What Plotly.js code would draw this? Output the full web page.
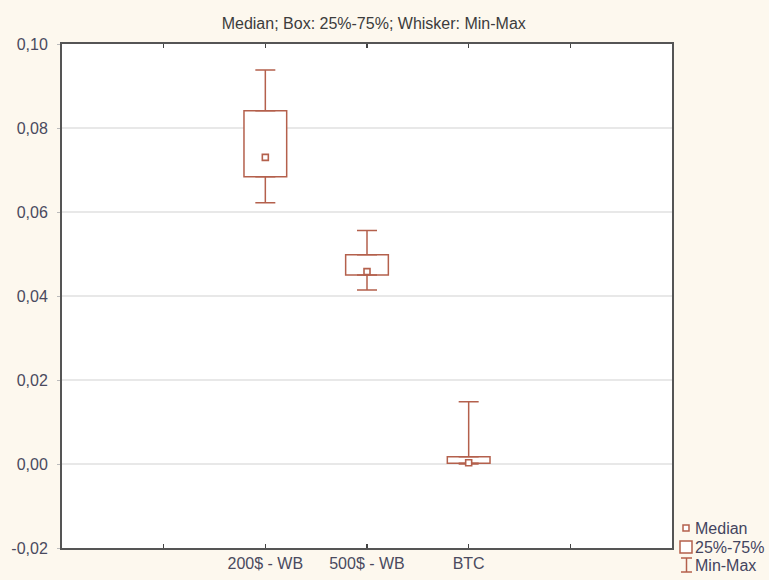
<!DOCTYPE html>
<html>
<head>
<meta charset="utf-8">
<script src="https://cdn.plot.ly/plotly-3.0.1.min.js"></script>
<style>html,body{margin:0;padding:0;background:#fdf8ee;}</style>
</head>
<body>
<div id="chart" style="width:769px;height:580px;"></div>
<script>
// Data
const categories = ['200$ - WB', '500$ - WB', 'BTC'];
const minVals    = [0.0622, 0.0414, 0.0000];
const q1Vals     = [0.0684, 0.0450, 0.0002];
const medianVals = [0.0730, 0.0458, 0.0003];
const q3Vals     = [0.0841, 0.0498, 0.0017];
const maxVals    = [0.0938, 0.0556, 0.0148];
const axisCategories = [' ', '200$ - WB', '500$ - WB', 'BTC', '  '];
const yTickVals = [-0.02, 0, 0.02, 0.04, 0.06, 0.08, 0.10];
const yTickText = yTickVals.map(v => v.toFixed(2).replace('.', ','));

const brown = '#b4604c';
const W = 769, H = 580;
const mL = 62, mR = 97, mT = 44, mB = 32;
const plotW = W - mL - mR, plotH = H - mT - mB;
const px = x => (x - mL) / plotW;
const py = y => (H - mB - y) / plotH;

const boxTrace = {
  type: 'bar', x: categories,
  base: q1Vals,
  y: q3Vals.map((v, i) => v - q1Vals[i]),
  width: 0.42,
  marker: {color: 'white', line: {color: brown, width: 1.5}},
  showlegend: false, hoverinfo: 'skip'
};
const upperWhisker = {
  type: 'scatter', mode: 'markers', x: categories, y: q3Vals,
  marker: {size: 1, opacity: 0},
  error_y: {type: 'data', symmetric: false,
    array: maxVals.map((v, i) => v - q3Vals[i]),
    arrayminus: q3Vals.map(() => 0),
    width: 10, thickness: 1.5, color: brown},
  showlegend: false, hoverinfo: 'skip'
};
const lowerWhisker = {
  type: 'scatter', mode: 'markers', x: categories, y: q1Vals,
  marker: {size: 1, opacity: 0},
  error_y: {type: 'data', symmetric: false,
    array: q1Vals.map(() => 0),
    arrayminus: q1Vals.map((v, i) => v - minVals[i]),
    width: 10, thickness: 1.5, color: brown},
  showlegend: false, hoverinfo: 'skip'
};
const medianTrace = {
  type: 'scatter', mode: 'markers', x: categories, y: medianVals,
  marker: {symbol: 'square', size: 6, color: 'white', line: {color: brown, width: 1.6}},
  showlegend: false
};

const FAM = 'Liberation Sans, Arial, sans-serif';
const legendFont = {family: FAM, size: 16, color: '#44445e'};
const shapes = [
  {type: 'rect', xref: 'paper', yref: 'paper', x0: px(683), x1: px(689), y0: py(531), y1: py(525),
   line: {color: brown, width: 1.5}, fillcolor: 'white'},
  {type: 'rect', xref: 'paper', yref: 'paper', x0: px(680), x1: px(692), y0: py(553), y1: py(541),
   line: {color: brown, width: 1.5}, fillcolor: 'white'},
  {type: 'line', xref: 'paper', yref: 'paper', x0: px(681), x1: px(692), y0: py(558), y1: py(558),
   line: {color: brown, width: 1.5}},
  {type: 'line', xref: 'paper', yref: 'paper', x0: px(686.5), x1: px(686.5), y0: py(558), y1: py(572),
   line: {color: brown, width: 1.5}},
  {type: 'line', xref: 'paper', yref: 'paper', x0: px(681), x1: px(692), y0: py(572), y1: py(572),
   line: {color: brown, width: 1.5}}
];
const annotations = [
  {text: 'Median', x: px(694), y: py(528)},
  {text: '25%-75%', x: px(694), y: py(547)},
  {text: 'Min-Max', x: px(694), y: py(565)}
].map(a => Object.assign(a, {xref: 'paper', yref: 'paper', xanchor: 'left', yanchor: 'middle',
  showarrow: false, font: legendFont, borderpad: 0}));

const tickFont = {family: FAM, size: 16, color: '#4a4a5e'};
const layout = {
  width: W, height: H,
  margin: {l: mL, r: mR, t: mT, b: mB, pad: 0},
  paper_bgcolor: '#fdf8ee', plot_bgcolor: 'white',
  separators: ',.',
  showlegend: false,
  title: {text: 'Median; Box: 25%-75%; Whisker: Min-Max',
    font: {family: FAM, size: 16, color: '#3c3c3c'},
    x: 393 / W, xanchor: 'center', xref: 'paper', y: 1 - 23 / H, yanchor: 'middle'},
  xaxis: {type: 'category', categoryorder: 'array', categoryarray: axisCategories,
    tickvals: axisCategories, ticktext: axisCategories,
    range: [-1, 5], showgrid: false, zeroline: false,
    showline: true, linecolor: '#555', linewidth: 2, mirror: 'ticks',
    ticks: 'inside', ticklen: 4, tickcolor: '#444', tickwidth: 1.5,
    tickfont: tickFont, fixedrange: true},
  yaxis: {range: [-0.02, 0.10], tickvals: yTickVals, ticktext: yTickText,
    showgrid: true, gridcolor: '#e8e8e8', gridwidth: 2, zeroline: false,
    showline: true, linecolor: '#555', linewidth: 2, mirror: true,
    ticks: 'outside', ticklen: 3, tickcolor: '#bbb', tickwidth: 1,
    ticklabelstandoff: 6,
    tickfont: tickFont, fixedrange: true},
  bargap: 0,
  shapes: shapes,
  annotations: annotations
};

Plotly.newPlot('chart', [boxTrace, upperWhisker, lowerWhisker, medianTrace], layout,
  {staticPlot: true, displayModeBar: false});
</script>
</body>
</html>
